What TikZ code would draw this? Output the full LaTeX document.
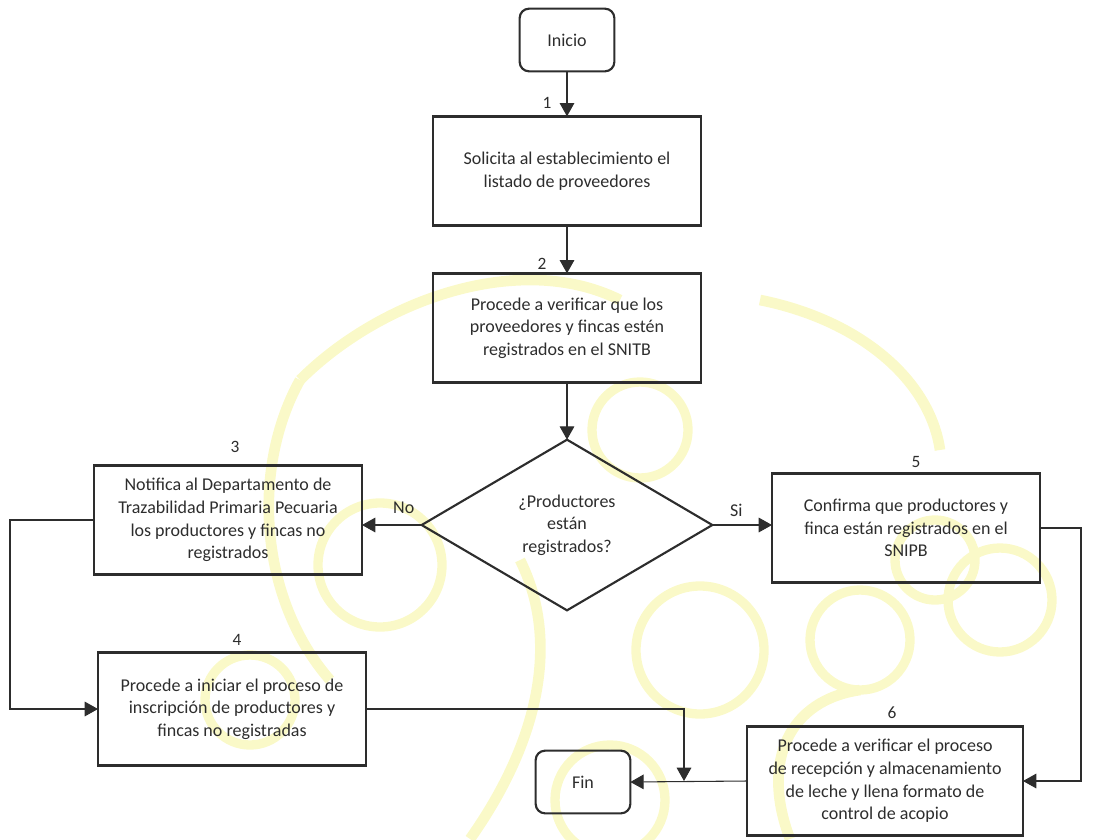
\documentclass[tikz,border=0pt]{standalone}
\usepackage{fontspec}
\setmainfont{Carlito}
\usetikzlibrary{shapes.geometric,arrows.meta}
\definecolor{wm}{RGB}{250,249,200}
\definecolor{ink}{RGB}{45,45,45}

\begin{document}
\begin{tikzpicture}[
  x=0.75pt, y=-0.75pt,
  every node/.style={font=\fontsize{13.5}{17}\selectfont, text=ink, outer sep=0pt},
  box/.style={draw=ink, line width=1.8pt, minimum width=201pt, minimum height=82pt, align=center},
  term/.style={draw=ink, line width=1.6pt, rounded corners=7pt, minimum width=71pt, minimum height=47pt},
  dec/.style={diamond, draw=ink, line width=1.6pt, inner sep=0pt, minimum width=218pt, minimum height=128pt, align=center},
  link/.style={draw=ink, line width=0.8pt},
  arr/.style={link, -{Triangle[length=10pt,width=11pt]}},
  num/.style={font=\fontsize{13}{15}\selectfont},
]
\useasboundingbox (0,0) rectangle (1094,839);
% faint logo in the background
\foreach \cx/\cy/\r in {380/565/62, 640/430/48, 700/650/64, 1000/600/52, 935/560/40, 250/700/45, 610/800/55, 860/640/50}
  \draw[wm, line width=7pt] (\cx,\cy) circle (\r);
\draw[wm, line width=8pt] (300,380) .. controls (250,470) and (260,600) .. (330,680);
\draw[wm, line width=8pt] (300,380) .. controls (380,300) and (520,250) .. (620,300);
\draw[wm, line width=8pt] (760,300) .. controls (860,320) and (930,380) .. (940,450);
\draw[wm, line width=8pt] (520,560) .. controls (560,640) and (540,740) .. (470,839);
\draw[wm, line width=8pt] (790,839) .. controls (760,760) and (790,700) .. (860,690);

% terminals and steps
\node[term] (inicio) at (567,40) {Inicio};
\node[box] (solicita) at (567,171) {Solicita al establecimiento el\\listado de proveedores};
\node[box] (verifica) at (567,328) {Procede a verificar que los\\proveedores y fincas estén\\registrados en el SNITB};
\node[dec] (registrados) at (567,525) {¿Productores\\están\\registrados?};
\node[box] (notifica) at (228,520) {Notifica al Departamento de\\Trazabilidad Primaria Pecuaria\\los productores y fincas no\\registrados};
\node[box] (confirma) at (906,528) {Confirma que productores y\\finca están registrados en el\\SNIPB};
\node[box, minimum height=85pt] (inscribe) at (232,709) {Procede a iniciar el proceso de\\inscripción de productores y\\fincas no registradas};
\node[box, minimum width=207pt] (acopio) at (885,781) {Procede a verificar el proceso\\de recepción y almacenamiento\\de leche y llena formato de\\control de acopio};
\node[term] (fin) at (583,782) {Fin};

% step numbers
\node[num] (n1) at (547,103) {1};
\node[num] (n2) at (542,264) {2};
\node[num] (n3) at (235,447) {3};
\node[num] (n4) at (237,640) {4};
\node[num] (n5) at (916,462) {5};
\node[num] (n6) at (892,713) {6};

% connectors
\coordinate (junta) at (684,781);
\draw[arr] (inicio) -- (solicita);
\draw[arr] (solicita) -- (verifica);
\draw[arr] (verifica) -- (registrados);
\draw[arr] (registrados.west) -- node[pos=0.3, above=5pt] (no) {No} (registrados.west -| notifica.east);
\draw[arr] (registrados.east) -- node[pos=0.4, above=3pt] (si) {Si} (registrados.east -| confirma.west);
\draw[arr] (notifica.west) -- ++(-84,0) |- (inscribe.west);
\draw[arr] (inscribe.east) -| (junta);
\draw[arr] (confirma.east) -- ++(41,0) |- (acopio.east);
\draw[arr] (acopio.west) -- (fin.east);
\end{tikzpicture}
\end{document}
